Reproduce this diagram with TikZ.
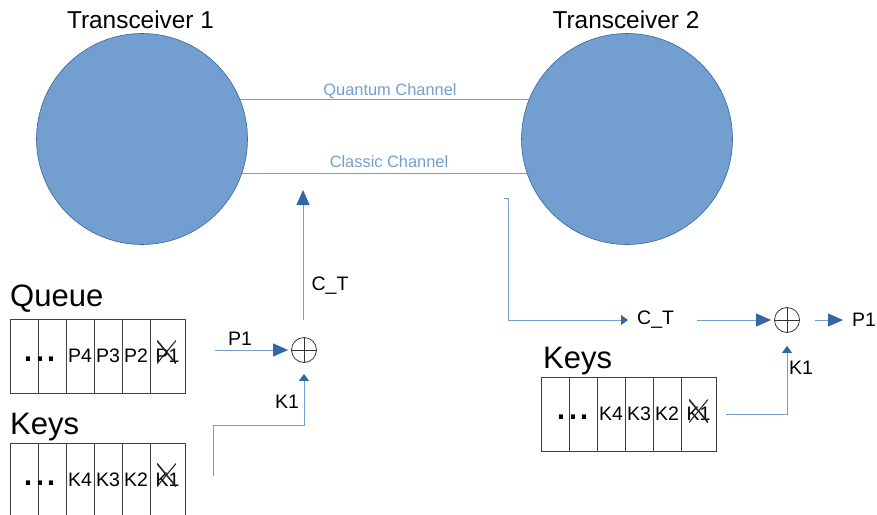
\documentclass[tikz,border=0pt]{standalone}
\usepackage{fontspec}
\setmainfont{Liberation Sans}
\usetikzlibrary{arrows.meta,calc}
\definecolor{circfill}{RGB}{114,159,207}
\definecolor{circdraw}{RGB}{52,101,164}
\definecolor{chan}{RGB}{114,159,207}
\tikzset{
  trx/.style={circle, fill=circfill, draw=circdraw, line width=0.6pt, minimum size=211pt, inner sep=0pt},
  title/.style={font=\fontsize{24.4}{28}\selectfont, anchor=base, inner sep=0pt},
  big/.style={font=\fontsize{31}{34}\selectfont, anchor=base west, inner sep=0pt},
  lbl/.style={font=\fontsize{19.5}{22}\selectfont, anchor=base, inner sep=0pt},
  chlbl/.style={font=\fontsize{16.4}{18}\selectfont, text=chan, anchor=base, inner sep=0pt},
  chanline/.style={draw=chan, line width=1pt},
  cell/.style={draw=black!75, line width=0.8pt, minimum width=28pt, minimum height=74pt, anchor=north west, inner sep=0pt, outer sep=0pt, font=\fontsize{19.5}{22}\selectfont},
  lastcell/.style={cell, minimum width=35pt},
  dots/.style={font=\fontsize{43}{46}\selectfont, anchor=base, inner sep=0pt},
  xmark/.style={minimum width=19pt, minimum height=23pt, inner sep=0pt,
    path picture={\draw[line width=1.6pt, black!85] (path picture bounding box.north west) -- (path picture bounding box.south east);
      \draw[line width=1.1pt, black!85] (path picture bounding box.south west) -- (path picture bounding box.north east);}},
  xorop/.style={circle, draw=black!80, line width=0.8pt, minimum size=25pt, inner sep=0pt},
  bigarr/.style={draw=chan, line width=1pt, -{Triangle[length=15pt,width=13pt,fill=circdraw,color=circdraw]}},
  smallarr/.style={draw=chan, line width=1pt, -{Triangle[length=7pt,width=10pt,fill=circdraw,color=circdraw]}},
}
\begin{document}
\begin{tikzpicture}[x=1pt,y=-1pt]
\useasboundingbox (0,0) rectangle (877,514);
% transceivers
\node[trx] (t1) at (142,139) {};
\node[trx] (t2) at (627,139) {};
\node[title] (tt1) at (140.5,28) {Transceiver 1};
\node[title] (tt2) at (626,28) {Transceiver 2};
% channels
\draw[chanline] (t1.22) -- (t2.158);
\draw[chanline] (t1.-19) -- (t2.199);
\node[chlbl] (ql) at (390,95) {Quantum Channel};
\node[chlbl] (cl) at (389,167) {Classic Channel};
% queue
\node[big] (queue) at (10,306) {Queue};
\node[cell] (q1) at (10,319) {};
\node[cell] (q2) at (q1.north east) {};
\node[cell] (q3) at (q2.north east) {P4};
\node[cell] (q4) at (q3.north east) {P3};
\node[cell] (q5) at (q4.north east) {P2};
\node[lastcell] (q6) at (q5.north east) {P1};
\node[dots] (qd) at (40,361) {...};
\node[xmark] (qx) at ($(q6.center)+(-1,-4)$) {};
% keys left
\node[big] (keysl) at (10,434) {Keys};
\node[cell] (k1) at (10,443) {};
\node[cell] (k2) at (k1.north east) {};
\node[cell] (k3) at (k2.north east) {K4};
\node[cell] (k4) at (k3.north east) {K3};
\node[cell] (k5) at (k4.north east) {K2};
\node[lastcell] (k6) at (k5.north east) {K1};
\node[dots] (kd) at (40,485) {...};
\node[xmark] (kx) at ($(k6.center)+(-1,-5)$) {};
% left xor
\node[xorop] (o1) at (304,350) {};
\draw[line width=0.8pt, black!80] (o1.north) -- (o1.south) (o1.west) -- (o1.east);
\coordinate (p1s) at (215,350);
\draw[bigarr, shorten >=3pt] (p1s) -- (o1.west);
\node[lbl] (p1l) at (240,345) {P1};
\coordinate (k1s) at (213,476);
\coordinate (k1c) at (213,425);
\draw[smallarr, shorten >=11pt] (k1s) -- (k1c) -| (o1.south);
\node[lbl] (k1l) at (287,408) {K1};
\coordinate (ctb) at (303,320);
\coordinate (ctt) at (303,190);
\draw[bigarr] (ctb) -- (ctt);
\node[lbl] (ctl) at (330,290) {C\_T};
% right side
\coordinate (rs) at (504,198);
\coordinate (rc) at (508,198);
\node[font=\fontsize{19.5}{22}\selectfont, anchor=west, inner sep=0pt] (ct2) at (637,320) {C\_T};
\draw[smallarr, shorten >=9pt] (rs) -- (rc) |- (ct2.west);
\node[xorop] (o2) at (787,320) {};
\draw[line width=0.8pt, black!80] (o2.north) -- (o2.south) (o2.west) -- (o2.east);
\draw[bigarr, shorten <=23pt, shorten >=3pt] (ct2.east) -- (o2.west);
\node[font=\fontsize{19.5}{22}\selectfont, anchor=west, inner sep=0pt] (p1o) at (852,320) {P1};
\draw[bigarr, shorten <=15pt, shorten >=9pt] (o2.east) -- (p1o.west);
% keys right
\node[big] (keysr) at (543,368) {Keys};
\node[cell] (r1) at (541,377) {};
\node[cell] (r2) at (r1.north east) {};
\node[cell] (r3) at (r2.north east) {K4};
\node[cell] (r4) at (r3.north east) {K3};
\node[cell] (r5) at (r4.north east) {K2};
\node[lastcell] (r6) at (r5.north east) {K1};
\node[dots] (rd) at (573,419) {...};
\node[xmark] (rx) at ($(r6.center)+(0,-3)$) {};
\draw[smallarr, shorten <=10pt, shorten >=13pt] (r6.east) -| (o2.south);
\node[lbl] (k1r) at (801,374) {K1};
\end{tikzpicture}
\end{document}
